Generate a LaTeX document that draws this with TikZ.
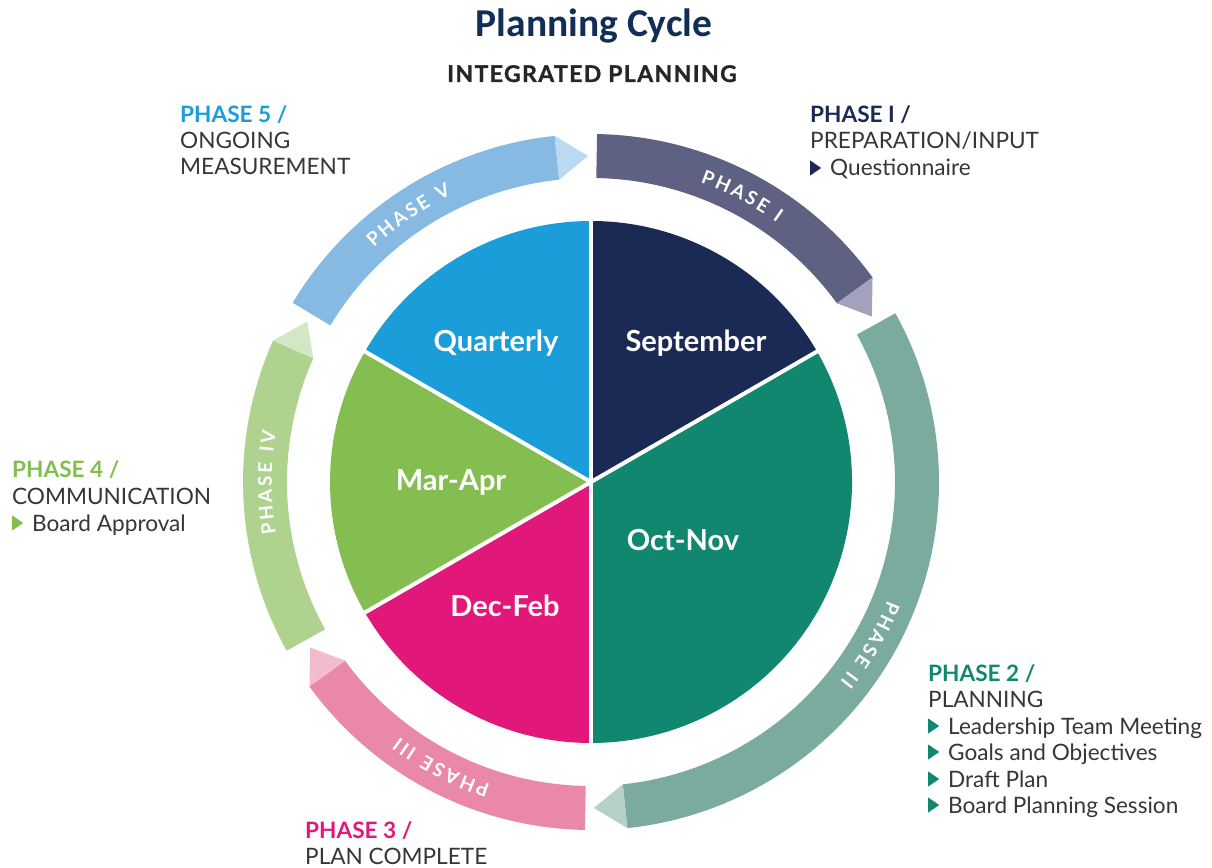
\documentclass[tikz,border=0pt]{standalone}
\usepackage{fontspec}
\setmainfont{Lato}
\newfontfamily\titlefont{Carlito}
\usetikzlibrary{decorations.text}
\definecolor{cTitle}{HTML}{112E57}
\definecolor{cSub}{HTML}{262626}
\definecolor{cText}{HTML}{363636}
\definecolor{cNavy}{HTML}{1B2A55}
\definecolor{cTeal}{HTML}{12876F}
\definecolor{cMag}{HTML}{E2177A}
\definecolor{cGreen}{HTML}{84BD50}
\definecolor{cBlue}{HTML}{1A9DD9}
\definecolor{aOneB}{HTML}{5F6183}
\definecolor{aOneT}{HTML}{A3A1BB}
\definecolor{aTwoB}{HTML}{7BAA9E}
\definecolor{aTwoT}{HTML}{B6D1C9}
\definecolor{aThreeB}{HTML}{E989A7}
\definecolor{aThreeT}{HTML}{F3BCCD}
\definecolor{aFourB}{HTML}{AFD38F}
\definecolor{aFourT}{HTML}{D4E7C5}
\definecolor{aFiveB}{HTML}{86BAE3}
\definecolor{aFiveT}{HTML}{BBD9F1}
\newcommand{\ringfont}{\fontsize{19}{19}\selectfont\bfseries\color{white}\kern2.6pt}
\newcommand{\bul}[1]{\tikz[baseline=0pt]\fill[#1](0pt,0.5pt)--(0pt,15.5pt)--(11pt,8pt)--cycle;\hspace{9pt}}
\newcommand{\phasearrow}[4]{%
  \pgfmathsetmacro\sa{#1-1}%
  \pgfmathsetmacro\ea{#2+6}%
  \pgfmathsetmacro\ta{#2+0.5}%
  \fill[#3] (\sa:348) arc[start angle=\sa,end angle=\ea,radius=348] -- (\ea:304) arc[start angle=\ea,end angle=\sa,radius=304] -- cycle;
  \fill[#4] (\ea:348) -- (\ta:326) -- (\ea:304) -- cycle;}
\newcommand{\ringlabel}[2]{%
  \pgfmathsetmacro\la{#1+30}%
  \pgfmathsetmacro\lb{#1-30}%
  \path[decorate,decoration={text along path,text align=center,text={|\ringfont|#2}}] (\la:319.2) arc[start angle=\la,end angle=\lb,radius=319.2];}
\tikzset{
  side/.style={anchor=base west,inner sep=0pt,font=\fontsize{22.6}{26}\selectfont,text=cText},
  head/.style={side,font=\fontsize{22.6}{26}\selectfont\bfseries},
  pie/.style={anchor=base,inner sep=0pt,text=white,font=\fontsize{29}{29}\selectfont\bfseries}
}
\begin{document}
\begin{tikzpicture}[x=1pt,y=1pt]
\useasboundingbox (-591,-385) rectangle (621,482);
% pie
\fill[cNavy] (0,0) -- (90:261) arc[start angle=90,end angle=30,radius=261] -- cycle;
\fill[cTeal] (0,0) -- (30:261) arc[start angle=30,end angle=-90,radius=261] -- cycle;
\fill[cMag] (0,0) -- (270:261) arc[start angle=270,end angle=210,radius=261] -- cycle;
\fill[cGreen] (0,0) -- (210:261) arc[start angle=210,end angle=150,radius=261] -- cycle;
\fill[cBlue] (0,0) -- (150:261) arc[start angle=150,end angle=90,radius=261] -- cycle;
\foreach \a in {90,30,-90,210,150} \draw[white,line width=4pt] (0,0) -- (\a:264);
% ring arrows
\phasearrow{90}{30}{aOneB}{aOneT}
\phasearrow{30}{-90}{aTwoB}{aTwoT}
\phasearrow{270}{210}{aThreeB}{aThreeT}
\phasearrow{210}{150}{aFourB}{aFourT}
\phasearrow{150}{90}{aFiveB}{aFiveT}
\ringlabel{62.4}{PHASE I}
\ringlabel{-30}{PHASE II}
\ringlabel{242.6}{PHASE III}
\ringlabel{180.3}{PHASE IV}
\ringlabel{124.6}{PHASE V}
% pie labels
\node[pie] (qua) at (-95,130) {Quarterly};
\node[pie] (sep) at (105,130) {September};
\node[pie] (mar) at (-140,-9) {Mar-Apr};
\node[pie] (oct) at (92,-68) {Oct-Nov};
\node[pie] (dec) at (-86,-134) {Dec-Feb};
% titles
\node[anchor=base,inner sep=0pt,text=cTitle,font=\titlefont\bfseries\fontsize{39.5}{39.5}\selectfont] (title) at (3,445) {Planning Cycle};
\node[anchor=base,inner sep=0pt,text=cSub,font=\fontsize{23}{23}\selectfont\bfseries\addfontfeatures{LetterSpace=6,FakeBold=1.2}] (sub) at (1,400) {INTEGRATED PLANNING};
% phase 5
\node[head,text=cBlue] (p5a) at (-411,359) {PHASE 5 /};
\node[side] (p5b) at (-411,333) {ONGOING};
\node[side] (p5c) at (-411,307) {MEASUREMENT};
% phase 1
\node[head,text=cNavy] (p1a) at (219,359) {PHASE I /};
\node[side] (p1b) at (219,333) {PREPARATION/INPUT};
\node[side] (p1c) at (219,306) {\bul{cNavy}Questionnaire};
% phase 4
\node[head,text=cGreen] (p4a) at (-579,4) {PHASE 4 /};
\node[side] (p4b) at (-579,-23) {COMMUNICATION};
\node[side] (p4c) at (-579,-49) {\bul{cGreen}Board Approval};
% phase 2
\node[head,text=cTeal] (p2a) at (337,-199) {PHASE 2 /};
\node[side] (p2b) at (337,-225) {PLANNING};
\node[side] (p2c) at (337,-252) {\bul{cTeal}Leadership Team Meeting};
\node[side] (p2d) at (337,-278) {\bul{cTeal}Goals and Objectives};
\node[side] (p2e) at (337,-305) {\bul{cTeal}Draft Plan};
\node[side] (p2f) at (337,-331) {\bul{cTeal}Board Planning Session};
% phase 3
\node[head,text=cMag] (p3a) at (-286,-356) {PHASE 3 /};
\node[side] (p3b) at (-286,-382) {PLAN COMPLETE};
\end{tikzpicture}
\end{document}
